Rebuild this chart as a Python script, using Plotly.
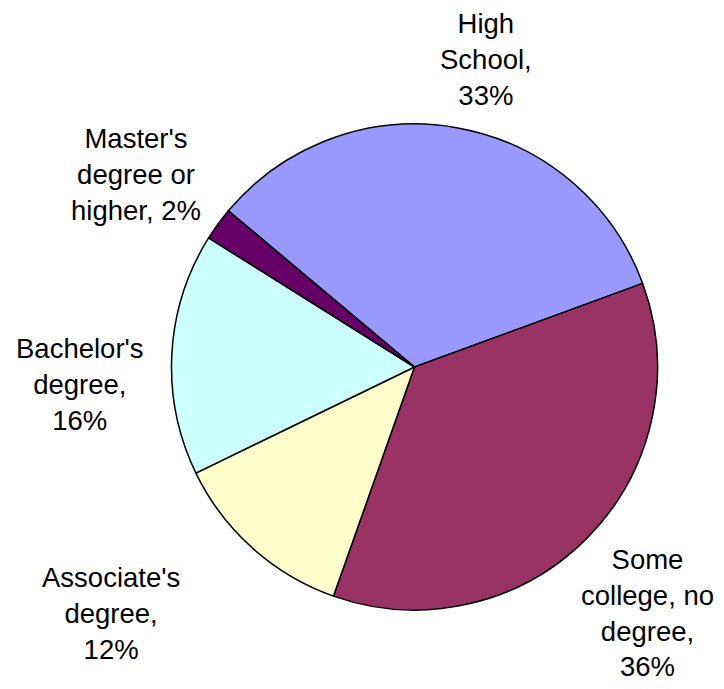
import plotly.graph_objects as go

# page has an 8px body margin, so the figure is drawn 8px in from the corner
OFF = 8
W, H = 724 - 2 * OFF, 689 - 2 * OFF

categories = ["High School", "Some college, no degree", "Associate's degree",
              "Bachelor's degree", "Master's degree or higher"]
values = [33.3, 36.0, 12.4, 16.1, 2.2]
label_lines = [["High", "School,"], ["Some", "college, no", "degree,"],
               ["Associate's", "degree,"], ["Bachelor's", "degree,"],
               ["Master's", "degree or", "higher,"]]
colors = ["#9999FF", "#993366", "#FFFFCC", "#CCFFFF", "#660066"]

# label block centers in page pixels
label_pos = [(486, 60), (647, 613), (111, 613), (80, 384), (136, 174)]


def px_x(v):
    return (v - OFF) / W


def px_y(v):
    return 1 - (v - OFF) / H


total = sum(values)
pcts = [round(v / total * 100) for v in values]

fig = go.Figure(go.Pie(
    labels=categories, values=values, sort=False, direction="clockwise",
    rotation=-50, textinfo="none", hoverinfo="label+percent",
    marker=dict(colors=colors, line=dict(color="black", width=1.5)),
    domain=dict(x=[px_x(171), px_x(658)], y=[px_y(610), px_y(124)]),
    showlegend=False,
))

annotations = []
for lines, p, (px, py) in zip(label_lines, pcts, label_pos):
    ls = list(lines)
    if ls[-1] == "higher,":
        ls[-1] = f"{ls[-1]} {p}%"
    else:
        ls.append(f"{p}%")
    annotations.append(dict(
        text="<br>".join(ls), x=px_x(px), y=px_y(py), xref="paper", yref="paper",
        xanchor="center", yanchor="middle", showarrow=False, align="center",
        font=dict(family="Liberation Sans, Arial, sans-serif", size=27.5, color="black"),
    ))

fig.update_layout(
    width=W, height=H, margin=dict(l=0, r=0, t=0, b=0),
    paper_bgcolor="white", plot_bgcolor="white",
    annotations=annotations,
)

fig.write_html("out.html")
